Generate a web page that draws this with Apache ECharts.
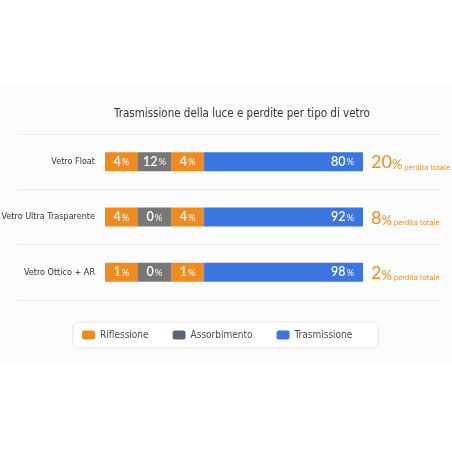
<!DOCTYPE html>
<html>
<head>
<meta charset="utf-8">
<script src="https://cdn.jsdelivr.net/npm/echarts@6/dist/echarts.min.js"></script>
<style>html,body{margin:0;padding:0;background:#fff;}#c{width:452px;height:452px;}</style>
</head>
<body>
<div id="c"></div>
<script>
const categories = ['Vetro Float', 'Vetro Ultra Trasparente', 'Vetro Ottico + AR'];
const riflessioneFronte = [4, 4, 1];
const assorbimento = [12, 0, 0];
const riflessioneRetro = [4, 4, 1];
const trasmissione = [80, 92, 98];
const legendNames = ['Riflessione', 'Assorbimento', 'Trasmissione'];
const titleText = 'Trasmissione della luce e perdite per tipo di vetro';

const perditaTotale = categories.map((_, i) => riflessioneFronte[i] + assorbimento[i] + riflessioneRetro[i]);

// small segments get a minimum visible share of the bar so their labels fit
const MIN_SHARE = 12.8;
const shown = v => Math.max(v, MIN_SHARE);
const shownFronte = riflessioneFronte.map(shown);
const shownAss = assorbimento.map(shown);
const shownRetro = riflessioneRetro.map(shown);
const shownTras = categories.map((_, i) => 100 - shownFronte[i] - shownAss[i] - shownRetro[i]);

const ORANGE = '#f28b1e', GRAY = '#777777', SLATE = '#5b6578', BLUE = '#3b76e0';
const FONT = '"DejaVu Sans Condensed", "Liberation Sans Narrow", Roboto, sans-serif';
const NUMFONT = 'Lato, Roboto, sans-serif';

const segLabel = (vals, pos) => ({
  show: true,
  position: pos,
  distance: 9,
  formatter: p => `{n|${vals[p.dataIndex]}}{p|%}`,
  rich: {
    n: { color: '#fff', fontSize: 12.5, fontWeight: 600, fontFamily: NUMFONT },
    p: { color: '#fff', fontSize: 9.5, fontFamily: NUMFONT, padding: [1, 0, 0, 1] }
  }
});

const GRID = { left: 105, right: 89, top: 134, height: 166 };

const chart = echarts.init(document.getElementById('c'), null, { renderer: 'canvas' });
chart.setOption({
  backgroundColor: '#ffffff',
  animation: false,
  graphic: [{
    type: 'rect', z: -10, silent: true,
    shape: { x: 0, y: 86, width: 452, height: 276 },
    style: { fill: '#fcfcfc' }
  }],
  title: {
    text: titleText,
    left: 237, top: 103, textAlign: 'center',
    textStyle: { fontFamily: FONT, fontSize: 11.5, fontWeight: 'normal', color: '#2f3440' }
  },
  legend: {
    data: [
      { name: legendNames[0], itemStyle: { color: ORANGE } },
      { name: legendNames[1], itemStyle: { color: SLATE } },
      { name: legendNames[2], itemStyle: { color: BLUE } }
    ],
    left: 73, top: 322,
    padding: [8, 26, 8, 9],
    itemWidth: 13, itemHeight: 9, itemGap: 24,
    icon: 'roundRect',
    borderColor: '#e6e6e6', borderWidth: 1, borderRadius: 6,
    backgroundColor: '#ffffff',
    selectedMode: false,
    textStyle: { fontFamily: FONT, fontSize: 10, color: '#444a55' }
  },
  grid: [
    { left: 18, right: 10, top: GRID.top, height: GRID.height, outerBoundsMode: 'none' },
    { left: GRID.left, right: GRID.right, top: GRID.top, height: GRID.height, outerBoundsMode: 'none' }
  ],
  xAxis: [
    { gridIndex: 0, type: 'value', min: 0, max: 100, show: false },
    { gridIndex: 1, type: 'value', min: 0, max: 100, show: false }
  ],
  yAxis: [
    {
      gridIndex: 0, type: 'category', data: categories, inverse: true,
      axisLine: { show: false }, axisTick: { show: false }, axisLabel: { show: false },
      splitLine: { show: true, lineStyle: { color: '#ececec', width: 1 } }
    },
    {
      gridIndex: 1, type: 'category', data: categories, inverse: true,
      axisLine: { show: false }, axisTick: { show: false },
      axisLabel: { margin: 10, fontFamily: FONT, fontSize: 9, color: '#2f3440' }
    },
    {
      gridIndex: 1, type: 'category', data: categories, inverse: true, position: 'right',
      axisLine: { show: false }, axisTick: { show: false },
      axisLabel: {
        margin: 8, align: 'left',
        formatter: (v, i) => `{big|${perditaTotale[i]}}{pct|%}{small|perdita totale}`,
        rich: {
          big: { fontFamily: NUMFONT, fontSize: 18, color: ORANGE, verticalAlign: 'bottom', lineHeight: 20 },
          pct: { fontFamily: NUMFONT, fontSize: 13, color: ORANGE, verticalAlign: 'bottom', lineHeight: 18, padding: [0, 2, 0, 0] },
          small: { fontFamily: FONT, fontSize: 7.5, color: ORANGE, verticalAlign: 'bottom', lineHeight: 15 }
        }
      }
    }
  ],
  series: [
    {
      name: legendNames[0], type: 'bar', stack: 'tot', xAxisIndex: 1, yAxisIndex: 1,
      barWidth: 19, data: shownFronte, itemStyle: { color: ORANGE },
      label: segLabel(riflessioneFronte, 'inside')
    },
    {
      name: legendNames[1], type: 'bar', stack: 'tot', xAxisIndex: 1, yAxisIndex: 1,
      barWidth: 19, data: shownAss, itemStyle: { color: GRAY },
      label: segLabel(assorbimento, 'inside')
    },
    {
      name: legendNames[0], type: 'bar', stack: 'tot', xAxisIndex: 1, yAxisIndex: 1,
      barWidth: 19, data: shownRetro, itemStyle: { color: ORANGE },
      label: segLabel(riflessioneRetro, 'inside')
    },
    {
      name: legendNames[2], type: 'bar', stack: 'tot', xAxisIndex: 1, yAxisIndex: 1,
      barWidth: 19, data: shownTras, itemStyle: { color: BLUE },
      label: segLabel(trasmissione, 'insideRight')
    }
  ]
});
</script>
</body>
</html>
